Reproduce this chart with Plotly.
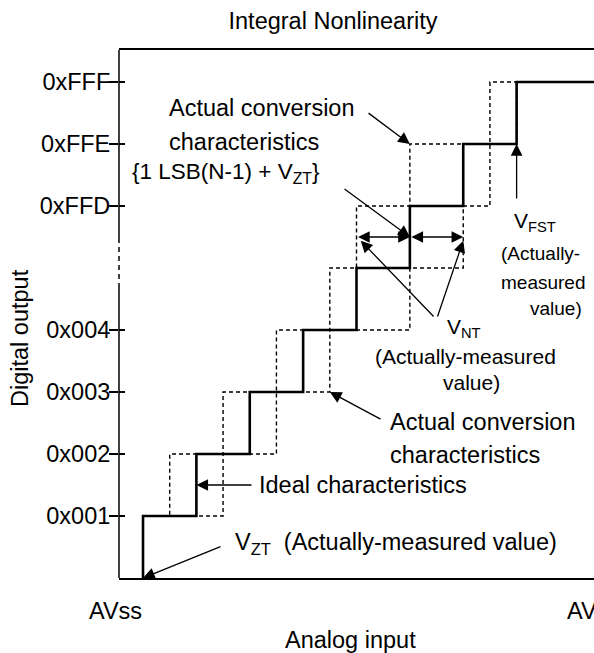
import plotly.graph_objects as go

# output codes, as step index (the hidden step 5 sits in the axis break)
levels = [0, 1, 2, 3, 4, 5, 6, 7, 8]
tick_levels = [1, 2, 3, 4, 6, 7, 8]
tick_labels = ["0x001", "0x002", "0x003", "0x004", "0xFFD", "0xFFE", "0xFFF"]

# analog input at each code transition, in LSB from V_ZT
ideal_steps = [0, 1, 2, 3, 4, 5, 6, 7]            # 0->1 ... 7->8
early_steps = [0.5, 1.5, 2.5, 3.5, 4.0, 5.0, 6.5]  # 1->2 ... 7->8
late_steps = [1.5, 2.5, 3.5, 5.0, 6.0, 6.5, 7.0]   # 1->2 ... 7->8
x_end = 9

FONT = "Liberation Sans, Arial, sans-serif"
FS = 23.5

# plot area in pixels
L, T, B = 119, 50, 578
PW, PH = 594 - L, B - T


def dx(p):
    return (p - 143) / 53.37


def dy(p):
    return (B - p) / 62.0


def fx(p):
    return (p - L) / PW


def fy(p):
    return (B - p) / PH


fig = go.Figure()

dash_style = dict(color="black", width=1.4, dash="4px,3px", shape="hv")
fig.add_trace(go.Scatter(x=[0] + early_steps + [x_end], y=levels[1:] + [8],
                         mode="lines", line=dash_style, hoverinfo="skip"))
fig.add_trace(go.Scatter(x=[0] + late_steps + [x_end], y=levels[1:] + [8],
                         mode="lines", line=dash_style, hoverinfo="skip"))
fig.add_trace(go.Scatter(x=[0] + ideal_steps + [x_end], y=levels + [8],
                         mode="lines", yaxis="y2",
                         line=dict(color="black", width=2.6, shape="hv"),
                         hoverinfo="skip"))

y_top = PH / 62.0

fig.update_layout(
    width=594, height=653,
    margin=dict(l=L, r=0, t=T, b=653 - B),
    paper_bgcolor="white", plot_bgcolor="white",
    showlegend=False,
    font=dict(family=FONT, size=FS, color="black"),
    title=dict(text="Integral Nonlinearity", x=333 / 594, xref="container",
               xanchor="center", y=1 - 21 / 653, yref="container",
               yanchor="middle", font=dict(size=FS)),
    xaxis=dict(range=[-0.45, 8.45], showline=True, linecolor="black",
               linewidth=1.5, mirror=True, showticklabels=False, ticks="",
               showgrid=False, zeroline=False),
    yaxis=dict(range=[0, y_top], tickvals=tick_levels, ticktext=tick_labels,
               ticks="outside", ticklen=9, tickwidth=1.5, tickcolor="black",
               ticklabelstandoff=-6,
               showline=False, showgrid=False, zeroline=False,
               tickfont=dict(size=FS)),
    yaxis2=dict(range=[0, y_top], overlaying="y", side="left",
                tickvals=tick_levels, ticks="inside", ticklen=6, tickwidth=1.5,
                tickcolor="black", showticklabels=False, showline=False,
                showgrid=False, zeroline=False),
)

# left axis with a break between 0x004 and 0xFFD
brk_lo, brk_hi = dy(288), dy(243)
for y0, y1, dash in [(0, brk_lo, "solid"), (brk_lo, brk_hi, "5px,4px"),
                     (brk_hi, y_top, "solid")]:
    fig.add_shape(type="line", xref="paper", yref="y", x0=0, x1=0, y0=y0, y1=y1,
                  line=dict(color="black", width=1.5, dash=dash))


def arrow(tail, head, both=False):
    fig.add_annotation(x=head[0], y=head[1], ax=tail[0], ay=tail[1],
                       xref="x", yref="y", axref="x", ayref="y", text="",
                       showarrow=True, arrowhead=2, arrowsize=1.8,
                       arrowwidth=1.3, arrowcolor="black", standoff=0,
                       startstandoff=0, startarrowhead=2, startarrowsize=1.8,
                       arrowside="end+start" if both else "end")


def label(text, x, y, anchor="left", angle=0, size=FS):
    fig.add_annotation(x=fx(x), y=fy(y), xref="paper", yref="paper", text=text,
                       showarrow=False, xanchor=anchor, yanchor="middle",
                       textangle=angle,
                       font=dict(size=size, family=FONT, color="black"))


vnt_y = 5.5

arrow((dx(367), dy(112)), (early_steps[5], levels[7]))
arrow((dx(343), dy(188)), (ideal_steps[5], vnt_y))
arrow((early_steps[4], vnt_y), (ideal_steps[5], vnt_y), both=True)
arrow((ideal_steps[5], vnt_y), (late_steps[4], vnt_y), both=True)
arrow((dx(435), dy(318)), (early_steps[4] + 0.08, vnt_y - 0.06))
arrow((dx(437), dy(318)), (late_steps[4], vnt_y - 0.06))
arrow((ideal_steps[7], dy(200)), (ideal_steps[7], levels[7]))
arrow((dx(382), dy(420)), (late_steps[2], levels[3]))
arrow((dx(253), 1.5), (ideal_steps[1], 1.5))
arrow((dx(222), dy(546)), (ideal_steps[0], levels[0]))

# label positions in pixels
label("Actual conversion", 167, 108)
label("characteristics", 167, 142)
label("{1 LSB(N-1) + V<sub>ZT</sub>}", 130, 173, size=22.5)
label("V<sub>FST</sub>", 512, 222, size=21)
label("(Actually-", 540, 253, "center", size=19)
label("measured", 543, 282, "center", size=19)
label("value)", 556, 308, "center", size=19)
label("V<sub>NT</sub>", 445, 328, size=21)
label("(Actually-measured", 465, 356, "center", size=21)
label("value)", 471, 383, "center", size=21)
label("Actual conversion", 388, 422)
label("characteristics", 388, 455)
label("Ideal characteristics", 257, 485)
label("V<sub>ZT</sub>&nbsp; (Actually-measured value)", 233, 543)
label("AVss", 115, 611, "center")
label("AV", 565, 611)
label("Analog input", 350, 640, "center")
label("Digital output", 20, 338, "center", -90)

fig.write_html("out.html", config={"displayModeBar": False},
               post_script="document.body.style.margin = '0';")
